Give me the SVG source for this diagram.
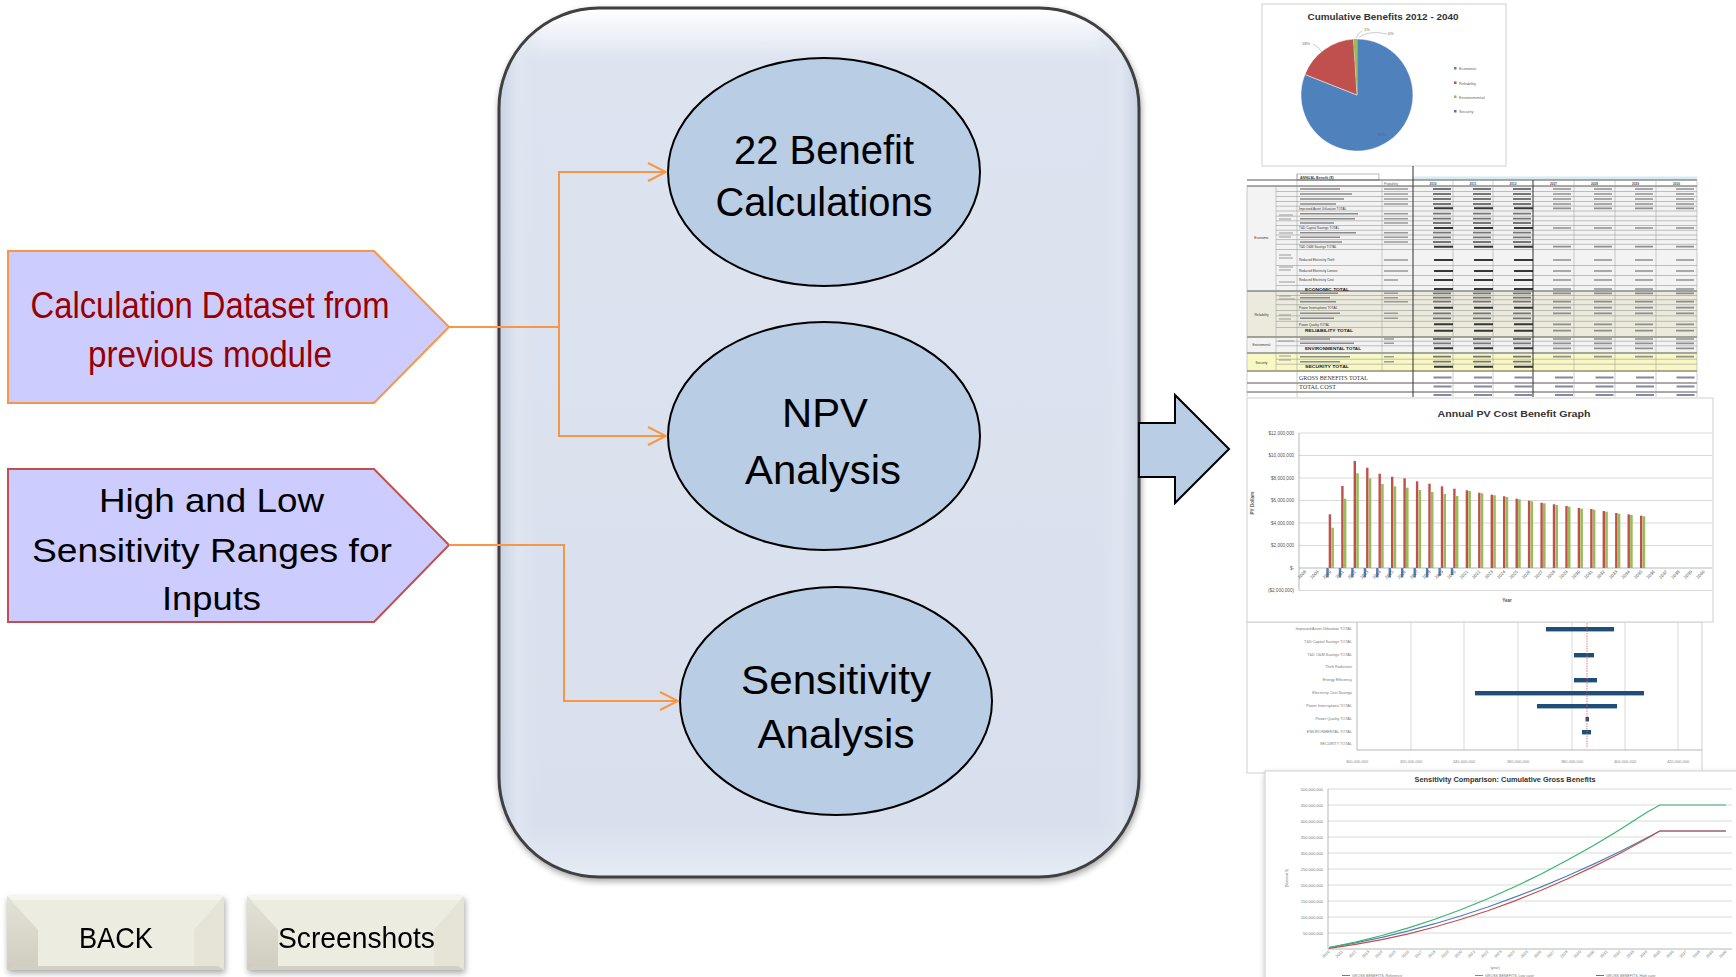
<svg xmlns="http://www.w3.org/2000/svg" width="1736" height="977" viewBox="0 0 1736 977">
<defs>
<style>
.t{font-family:"Liberation Sans",Arial,sans-serif}
.ser{font-family:"Liberation Serif","Times New Roman",serif}
.conn{fill:none;stroke:#f79646;stroke-width:2}
.ell{fill:#b9cde5;stroke:#000;stroke-width:2}
.big{font-size:41px;text-anchor:middle;fill:#000}
.tiny{font-size:4px;fill:#666}
.ax{font-size:4.6px;fill:#555}
.yr{font-size:4.4px;fill:#555;text-anchor:end}
.grid{stroke:#c8c8c8;stroke-width:0.7;fill:none}
.panel{fill:#fff;stroke:#cfcfcf;stroke-width:1}
.bR{fill:#c0504d}.bG{fill:#9bbb59}.bB{fill:#4f81bd}
.tb{fill:#1f4e79}
.bt{font-size:29px;text-anchor:middle;fill:#000}
</style>
<marker id="ah" markerUnits="userSpaceOnUse" viewBox="-20 -11 22 22" markerWidth="22" markerHeight="22" refX="0" refY="0" orient="auto">
<path d="M-18,-9 L0,0 L-18,9" fill="none" stroke="#f79646" stroke-width="2"/>
</marker>
<filter id="sh" x="-10%" y="-10%" width="130%" height="130%">
<feGaussianBlur in="SourceAlpha" stdDeviation="3"/>
<feOffset dx="1" dy="3"/>
<feComponentTransfer><feFuncA type="linear" slope="0.35"/></feComponentTransfer>
<feMerge><feMergeNode/><feMergeNode in="SourceGraphic"/></feMerge>
</filter>
<linearGradient id="gBoxV" x1="0" y1="0" x2="0" y2="1">
<stop offset="0" stop-color="#ffffff"/>
<stop offset="0.06" stop-color="#dde4f0"/>
<stop offset="0.94" stop-color="#d9e0ed"/>
<stop offset="1" stop-color="#e6ecf5"/>
</linearGradient>
<linearGradient id="gBoxH" x1="0" y1="0" x2="1" y2="0">
<stop offset="0" stop-color="#c4cfe0" stop-opacity="0.9"/>
<stop offset="0.03" stop-color="#e2e8f2" stop-opacity="0.7"/>
<stop offset="0.07" stop-color="#d9e0ed" stop-opacity="0"/>
<stop offset="0.93" stop-color="#d9e0ed" stop-opacity="0"/>
<stop offset="0.97" stop-color="#e2e8f2" stop-opacity="0.7"/>
<stop offset="1" stop-color="#c4cfe0" stop-opacity="0.9"/>
</linearGradient>
<linearGradient id="gBtnL" x1="0" y1="0" x2="0" y2="1">
<stop offset="0" stop-color="#e4e2d6"/><stop offset="1" stop-color="#cfcdbf"/>
</linearGradient>
</defs>
<rect width="1736" height="977" fill="#fff"/>

<!-- right-side screenshots -->
<g id="screens">
 <g id="pie">
  <rect x="1262" y="4" width="244" height="162" class="panel"/>
  <text class="t" x="1383" y="20" font-size="8.5" font-weight="bold" fill="#333" text-anchor="middle" textLength="151" lengthAdjust="spacingAndGlyphs">Cumulative Benefits 2012 - 2040</text>
  <path d="M1357,95 L1357,39 A56,56 0 1 1 1304.9,74.4 Z" fill="#4f81bd" stroke="#fff" stroke-width="0.5"/>
  <path d="M1357,95 L1304.9,74.4 A56,56 0 0 1 1353.5,39.1 Z" fill="#c0504d" stroke="#fff" stroke-width="0.5"/>
  <path d="M1357,95 L1353.5,39.1 A56,56 0 0 1 1357,39 Z" fill="#9bbb59"/>
  <path d="M1313,44 Q1318,46 1322,52 M1362,31 Q1358,33 1356,38 M1387,34 Q1370,30 1359,37" fill="none" stroke="#999" stroke-width="0.5"/>
  <text class="t tiny" x="1302" y="45">18%</text>
  <text class="t tiny" x="1364" y="31">1%</text>
  <text class="t tiny" x="1388" y="35">0%</text>
  <text class="t tiny" x="1378" y="136">81%</text>
  <rect x="1454" y="67" width="2.5" height="2.5" fill="#4f81bd"/>
  <rect x="1454" y="81.5" width="2.5" height="2.5" fill="#c0504d"/>
  <rect x="1454" y="95.5" width="2.5" height="2.5" fill="#9bbb59"/>
  <rect x="1454" y="110" width="2.5" height="2.5" fill="#8064a2"/>
  <text class="t tiny" x="1459" y="70">Economic</text>
  <text class="t tiny" x="1459" y="84.5">Reliability</text>
  <text class="t tiny" x="1459" y="98.5">Environmental</text>
  <text class="t tiny" x="1459" y="113">Security</text>
 </g>

 <g id="table">
  <rect x="1247" y="186" width="450" height="105" fill="#f3f3f3"/>
  <rect x="1247" y="291" width="450" height="46" fill="#ebeadd"/>
  <rect x="1247" y="337" width="450" height="16" fill="#f3f3f3"/>
  <rect x="1247" y="353" width="450" height="18" fill="#f8f8c4"/>
  <rect x="1413" y="176.5" width="284" height="3" fill="#d6ebf2"/>
  <rect x="1297" y="174" width="82" height="6" fill="none" stroke="#777" stroke-width="0.5"/>
  <text class="t" x="1300" y="178.6" font-size="3.6" font-weight="bold" fill="#444">ANNUAL Benefit ($)</text>
  <text class="t" x="1384" y="184.6" font-size="3" fill="#666">Probability</text>
  <g class="t" font-size="3.2" font-weight="bold" fill="#555" text-anchor="middle">
   <text x="1433" y="184.6">2010</text><text x="1473" y="184.6">2011</text><text x="1513" y="184.6">2012</text>
   <text x="1553.5" y="184.6">2027</text><text x="1594.5" y="184.6">2028</text><text x="1635.5" y="184.6">2029</text><text x="1676.5" y="184.6">2030</text>
  </g>
  <path d="M1276,191.5H1697M1276,196.5H1697M1276,201.5H1697M1276,206.2H1697M1276,211H1697M1276,216.2H1697M1276,220.8H1697M1276,225.5H1697M1276,230.3H1697M1276,235H1697M1276,239.6H1697M1276,244.3H1697M1276,249.5H1697M1276,265.5H1697M1276,275.5H1697M1276,285.5H1697M1276,295.5H1697M1276,299.7H1697M1276,304.7H1697M1276,310.5H1697M1276,315.8H1697M1276,321.3H1697M1276,327.5H1697M1276,341.2H1697M1276,345.8H1697M1276,359.2H1697M1276,364.2H1697" stroke="#999" stroke-width="0.6" fill="none"/>
  <path d="M1247,180H1697M1247,186H1697M1247,291H1697M1247,337H1697M1247,353H1697M1247,371H1697M1247,383H1697M1247,392H1697" stroke="#444" stroke-width="0.9" fill="none"/>
  <path d="M1247,186V397M1276,186V371M1297,174V397M1382,180V371M1453,180V397M1493,180V397M1574,180V397M1615,180V397M1656,180V397M1697,180V397" stroke="#999" stroke-width="0.5" fill="none"/>
  <path d="M1413,166V397M1533,180V397" stroke="#333" stroke-width="1" fill="none"/>
  <path d="M1413,189H1533M1413,194H1533M1413,199H1533M1413,204H1533M1413,213.7H1533M1413,218.7H1533M1413,223H1533M1413,232.7H1533M1413,237.3H1533M1413,242H1533M1413,293.3H1533M1413,297.7H1533M1413,301.7H1533M1413,313.3H1533M1413,318.3H1533M1413,339H1533M1413,343.3H1533M1413,356.7H1533M1413,361.7H1533" stroke="#555" stroke-width="1.8" stroke-dasharray="18 22" stroke-dashoffset="20" fill="none" opacity="0.8"/>
  <path d="M1413,208.3H1533M1413,228H1533M1413,246.7H1533M1413,260H1533M1413,271H1533M1413,280H1533M1413,289H1533M1413,307.7H1533M1413,324.3H1533M1413,330.7H1533M1413,348.3H1533M1413,366.7H1533" stroke="#222" stroke-width="2.1" stroke-dasharray="19 21" stroke-dashoffset="19" fill="none" opacity="0.9"/>
  <path d="M1533,189H1697M1533,194H1697M1533,199H1697M1533,204H1697M1533,208.3H1697M1533,228H1697M1533,246.7H1697M1533,260H1697M1533,271H1697M1533,280H1697M1533,289H1697M1533,293.3H1697M1533,301.7H1697M1533,307.7H1697M1533,313.3H1697M1533,324.3H1697M1533,330.7H1697M1533,339H1697M1533,343.3H1697M1533,348.3H1697M1533,356.7H1697" stroke="#777" stroke-width="1.7" stroke-dasharray="18 23" stroke-dashoffset="21" fill="none" opacity="0.8"/>
  <path d="M1413,377.5H1697M1413,386.5H1697M1413,395H1697" stroke="#6a6a8a" stroke-width="1.8" stroke-dasharray="18 22.5" stroke-dashoffset="20" fill="none" opacity="0.8"/>
  <path d="M1300,189h40M1300,194h52M1300,199h44M1300,204h36M1300,213.7h58M1300,218.7h55M1300,223h34M1300,232.7h56M1300,237.3h40M1300,242h42M1300,293.3h38M1300,297.7h30M1300,301.7h36M1300,313.3h40M1300,318.3h34M1300,339h30M1300,343.3h54M1300,356.7h50M1300,361.7h40" stroke="#8a8a8a" stroke-width="1.5" fill="none"/>
  <path d="M1384,189h24M1384,194h24M1384,199h24M1384,204h24M1384,213.7h24M1384,218.7h24M1384,223h24M1384,232.7h24M1384,237.3h24M1384,242h24M1384,260h24M1384,271h24M1384,280h14M1384,293.3h14M1384,297.7h14M1384,301.7h24M1384,313.3h14M1384,318.3h14M1384,339h10M1384,343.3h10M1384,356.7h10M1384,361.7h10" stroke="#999" stroke-width="1.4" fill="none"/>
  <path d="M1279,215h14M1279,219h12M1279,233h14M1279,237h12M1279,255h12M1279,258h14M1279,267h14M1279,270h12M1279,282h16M1279,296h12M1279,299h16M1279,315h12M1279,319h12M1278,341h16M1279,356h12M1279,360h12" stroke="#999" stroke-width="1.2" fill="none"/>
  <g class="t" font-size="3.2" fill="#333">
   <text x="1299" y="209.5">Improved Asset Utilization TOTAL</text>
   <text x="1299" y="229.2">T&amp;D Capital Savings TOTAL</text>
   <text x="1299" y="247.9">T&amp;D O&amp;M Savings TOTAL</text>
   <text x="1299" y="261.2">Reduced Electricity Theft</text>
   <text x="1299" y="272.2">Reduced Electricity Losses</text>
   <text x="1299" y="281.2">Reduced Electricity Cost</text>
   <text x="1299" y="308.9">Power Interruptions TOTAL</text>
   <text x="1299" y="325.5">Power Quality TOTAL</text>
  </g>
  <g class="t" font-size="3.8" font-weight="bold" fill="#222">
   <text x="1305" y="290.5" textLength="44" lengthAdjust="spacingAndGlyphs">ECONOMIC TOTAL</text>
   <text x="1305" y="332.2" textLength="48" lengthAdjust="spacingAndGlyphs">RELIABILITY TOTAL</text>
   <text x="1305" y="349.8" textLength="56" lengthAdjust="spacingAndGlyphs">ENVIRONMENTAL TOTAL</text>
   <text x="1305" y="368.2" textLength="44" lengthAdjust="spacingAndGlyphs">SECURITY TOTAL</text>
  </g>
  <g class="t" font-size="3.3" fill="#333" text-anchor="middle">
   <text x="1261.5" y="239">Economic</text>
   <text x="1261.5" y="315.5">Reliability</text>
   <text x="1261.5" y="346" font-size="2.8">Environmental</text>
   <text x="1261.5" y="363.5">Security</text>
  </g>
  <text class="ser" x="1299" y="380" font-size="5.4" fill="#333" textLength="69" lengthAdjust="spacingAndGlyphs">GROSS BENEFITS TOTAL</text>
  <text class="ser" x="1299" y="389" font-size="5.4" fill="#333" textLength="37" lengthAdjust="spacingAndGlyphs">TOTAL COST</text>
 </g>

 <g id="tornado">
  <rect x="1247" y="622" width="455" height="151" class="panel"/>
  <path d="M1411,622V750M1464,622V750M1518,622V750M1572,622V750M1625,622V750M1678,622V750" class="grid"/>
  <path d="M1357,622V750H1702" fill="none" stroke="#999" stroke-width="0.7"/>
  <rect x="1546" y="627" width="68" height="4.4" class="tb"/>
  <rect x="1574" y="653" width="20" height="4.4" class="tb"/>
  <rect x="1574" y="678" width="23" height="4.4" class="tb"/>
  <rect x="1475" y="691" width="169" height="4.4" class="tb"/>
  <rect x="1537" y="704" width="80" height="4.4" class="tb"/>
  <rect x="1585.5" y="717" width="3.5" height="4.4" class="tb"/>
  <rect x="1582" y="730" width="9" height="4.4" class="tb"/>
  <path d="M1587,623V748" stroke="#e05a5a" stroke-width="0.8" stroke-dasharray="1.5 1"/>
  <g class="t" font-size="3.8" fill="#777" text-anchor="end">
   <text x="1352" y="630.3">Improved Asset Utilization TOTAL</text>
   <text x="1352" y="643.3">T&amp;D Capital Savings TOTAL</text>
   <text x="1352" y="656.3">T&amp;D O&amp;M Savings TOTAL</text>
   <text x="1352" y="668.3">Theft Reduction</text>
   <text x="1352" y="681.3">Energy Efficiency</text>
   <text x="1352" y="694.3">Electricity Cost Savings</text>
   <text x="1352" y="707.3">Power Interruptions TOTAL</text>
   <text x="1352" y="720.3">Power Quality TOTAL</text>
   <text x="1352" y="733.3">ENVIRONMENTAL TOTAL</text>
   <text x="1352" y="745.3">SECURITY TOTAL</text>
  </g>
  <g class="t" font-size="4" fill="#888" text-anchor="middle">
   <text x="1357" y="763">300,000,000</text><text x="1411" y="763">320,000,000</text><text x="1464" y="763">340,000,000</text>
   <text x="1518" y="763">360,000,000</text><text x="1572" y="763">380,000,000</text><text x="1625" y="763">400,000,000</text><text x="1678" y="763">420,000,000</text>
  </g>
 </g>

 <g id="barchart">
  <rect x="1247" y="398" width="466" height="224" class="panel"/>
  <text class="t" x="1514" y="417" font-size="9" font-weight="bold" fill="#333" text-anchor="middle" textLength="153" lengthAdjust="spacingAndGlyphs">Annual PV Cost Benefit Graph</text>
  <path d="M1299,433H1712M1299,455.5H1712M1299,478H1712M1299,500.5H1712M1299,523H1712M1299,545.5H1712M1299,590.5H1712" class="grid"/>
  <path d="M1299,433V590.5M1299,568H1712" fill="none" stroke="#999" stroke-width="0.7"/>
  <g class="t ax" text-anchor="end">
   <text x="1294" y="434.5">$12,000,000</text><text x="1294" y="457">$10,000,000</text><text x="1294" y="479.5">$8,000,000</text>
   <text x="1294" y="502">$6,000,000</text><text x="1294" y="524.5">$4,000,000</text><text x="1294" y="547">$2,000,000</text>
   <text x="1294" y="569.5">$-</text><text x="1294" y="592">($2,000,000)</text>
  </g>
  <text class="t" font-size="4.6" font-weight="bold" fill="#555" text-anchor="middle" transform="translate(1254,503) rotate(-90)">PV Dollars</text>
  <text class="t" x="1507" y="602" font-size="4.6" font-weight="bold" fill="#555" text-anchor="middle">Year</text>
  <g>
   <rect class="bR" x="1328.7" y="514.3" width="2.4" height="53.7"/><rect class="bR" x="1341.2" y="486" width="2.4" height="82"/>
   <rect class="bR" x="1353.6" y="461" width="2.4" height="107"/><rect class="bR" x="1366.1" y="467.7" width="2.4" height="100.3"/>
   <rect class="bR" x="1378.5" y="473.7" width="2.4" height="94.3"/><rect class="bR" x="1391" y="476.7" width="2.4" height="91.3"/>
   <rect class="bR" x="1403.4" y="478.3" width="2.4" height="89.7"/><rect class="bR" x="1415.9" y="481.3" width="2.4" height="86.7"/>
   <rect class="bR" x="1428.3" y="483.7" width="2.4" height="84.3"/><rect class="bR" x="1440.8" y="486.3" width="2.4" height="81.7"/>
   <rect class="bR" x="1453.2" y="488.7" width="2.4" height="79.3"/><rect class="bR" x="1465.7" y="490.3" width="2.4" height="77.7"/>
   <rect class="bR" x="1478.1" y="492.7" width="2.4" height="75.3"/><rect class="bR" x="1490.6" y="494.7" width="2.4" height="73.3"/>
   <rect class="bR" x="1503" y="496.3" width="2.4" height="71.7"/><rect class="bR" x="1515.5" y="498.7" width="2.4" height="69.3"/>
   <rect class="bR" x="1527.9" y="500.7" width="2.4" height="67.3"/><rect class="bR" x="1540.4" y="502.7" width="2.4" height="65.3"/>
   <rect class="bR" x="1552.8" y="504.3" width="2.4" height="63.7"/><rect class="bR" x="1565.3" y="506" width="2.4" height="62"/>
   <rect class="bR" x="1577.7" y="508" width="2.4" height="60"/><rect class="bR" x="1590.2" y="509" width="2.4" height="59"/>
   <rect class="bR" x="1602.6" y="511" width="2.4" height="57"/><rect class="bR" x="1615.1" y="513" width="2.4" height="55"/>
   <rect class="bR" x="1627.5" y="514.3" width="2.4" height="53.7"/><rect class="bR" x="1640" y="515.7" width="2.4" height="52.3"/>
  </g>
  <g>
   <rect class="bG" x="1331.3" y="527.7" width="2.6" height="40.3"/><rect class="bG" x="1343.8" y="498.7" width="2.6" height="69.3"/>
   <rect class="bG" x="1356.2" y="473.3" width="2.6" height="94.7"/><rect class="bG" x="1368.7" y="478.3" width="2.6" height="89.7"/>
   <rect class="bG" x="1381.1" y="484" width="2.6" height="84"/><rect class="bG" x="1393.6" y="486.3" width="2.6" height="81.7"/>
   <rect class="bG" x="1406" y="487.7" width="2.6" height="80.3"/><rect class="bG" x="1418.5" y="490" width="2.6" height="78"/>
   <rect class="bG" x="1430.9" y="492" width="2.6" height="76"/><rect class="bG" x="1443.4" y="494" width="2.6" height="74"/>
   <rect class="bG" x="1455.8" y="496" width="2.6" height="72"/><rect class="bG" x="1468.3" y="491" width="2.6" height="77"/>
   <rect class="bG" x="1480.7" y="493.3" width="2.6" height="74.7"/><rect class="bG" x="1493.2" y="495.3" width="2.6" height="72.7"/>
   <rect class="bG" x="1505.6" y="497" width="2.6" height="71"/><rect class="bG" x="1518.1" y="499.3" width="2.6" height="68.7"/>
   <rect class="bG" x="1530.5" y="501.3" width="2.6" height="66.7"/><rect class="bG" x="1543" y="503.3" width="2.6" height="64.7"/>
   <rect class="bG" x="1555.4" y="505" width="2.6" height="63"/><rect class="bG" x="1567.9" y="506.7" width="2.6" height="61.3"/>
   <rect class="bG" x="1580.3" y="508.7" width="2.6" height="59.3"/><rect class="bG" x="1592.8" y="509.7" width="2.6" height="58.3"/>
   <rect class="bG" x="1605.2" y="511.7" width="2.6" height="56.3"/><rect class="bG" x="1617.7" y="513.7" width="2.6" height="54.3"/>
   <rect class="bG" x="1630.1" y="515" width="2.6" height="53"/><rect class="bG" x="1642.6" y="516.3" width="2.6" height="51.7"/>
  </g>
  <g>
   <rect class="bB" x="1326.3" y="568" width="2.4" height="9.5"/><rect class="bB" x="1338.8" y="568" width="2.4" height="9.5"/>
   <rect class="bB" x="1351.2" y="568" width="2.4" height="9.5"/><rect class="bB" x="1363.7" y="568" width="2.4" height="9.5"/>
   <rect class="bB" x="1376.1" y="568" width="2.4" height="9.5"/><rect class="bB" x="1388.6" y="568" width="2.4" height="9.5"/>
   <rect class="bB" x="1401" y="568" width="2.4" height="9.5"/><rect class="bB" x="1413.5" y="568" width="2.4" height="9.5"/>
   <rect class="bB" x="1425.9" y="568" width="2.4" height="9.5"/><rect class="bB" x="1438.4" y="568" width="2.4" height="8"/>
   <rect class="bB" x="1450.8" y="568" width="2.4" height="7"/>
  </g>
  <g class="t yr">
   <text transform="translate(1306.5,572) rotate(-45)">2008</text><text transform="translate(1319,572) rotate(-45)">2009</text>
   <text transform="translate(1331.4,572) rotate(-45)">2010</text><text transform="translate(1343.9,572) rotate(-45)">2011</text>
   <text transform="translate(1356.3,572) rotate(-45)">2012</text><text transform="translate(1368.8,572) rotate(-45)">2013</text>
   <text transform="translate(1381.2,572) rotate(-45)">2014</text><text transform="translate(1393.7,572) rotate(-45)">2015</text>
   <text transform="translate(1406.1,572) rotate(-45)">2016</text><text transform="translate(1418.6,572) rotate(-45)">2017</text>
   <text transform="translate(1431,572) rotate(-45)">2018</text><text transform="translate(1443.5,572) rotate(-45)">2019</text>
   <text transform="translate(1455.9,572) rotate(-45)">2020</text><text transform="translate(1468.4,572) rotate(-45)">2021</text>
   <text transform="translate(1480.8,572) rotate(-45)">2022</text><text transform="translate(1493.3,572) rotate(-45)">2023</text>
   <text transform="translate(1505.7,572) rotate(-45)">2024</text><text transform="translate(1518.2,572) rotate(-45)">2025</text>
   <text transform="translate(1530.6,572) rotate(-45)">2026</text><text transform="translate(1543.1,572) rotate(-45)">2027</text>
   <text transform="translate(1555.5,572) rotate(-45)">2028</text><text transform="translate(1568,572) rotate(-45)">2029</text>
   <text transform="translate(1580.4,572) rotate(-45)">2030</text><text transform="translate(1592.9,572) rotate(-45)">2031</text>
   <text transform="translate(1605.3,572) rotate(-45)">2032</text><text transform="translate(1617.8,572) rotate(-45)">2033</text>
   <text transform="translate(1630.2,572) rotate(-45)">2034</text><text transform="translate(1642.7,572) rotate(-45)">2035</text>
   <text transform="translate(1655.1,572) rotate(-45)">2036</text><text transform="translate(1667.6,572) rotate(-45)">2037</text>
   <text transform="translate(1680,572) rotate(-45)">2038</text><text transform="translate(1692.5,572) rotate(-45)">2039</text>
   <text transform="translate(1704.9,572) rotate(-45)">2040</text>
  </g>
 </g>

 <g id="linechart">
  <rect x="1265" y="771" width="480" height="220" class="panel" filter="url(#sh)"/>
  <text class="t" x="1505" y="782" font-size="7" font-weight="bold" fill="#333" text-anchor="middle" textLength="181" lengthAdjust="spacingAndGlyphs">Sensitivity Comparison: Cumulative Gross Benefits</text>
  <path d="M1328,789H1732M1328,805H1732M1328,821H1732M1328,837H1732M1328,853H1732M1328,869H1732M1328,885H1732M1328,901H1732M1328,917H1732M1328,933H1732" class="grid"/>
  <path d="M1328,789V949H1732" fill="none" stroke="#999" stroke-width="0.7"/>
  <g class="t" font-size="4" fill="#777" text-anchor="end">
   <text x="1323" y="790.5">500,000,000</text><text x="1323" y="806.5">450,000,000</text><text x="1323" y="822.5">400,000,000</text>
   <text x="1323" y="838.5">350,000,000</text><text x="1323" y="854.5">300,000,000</text><text x="1323" y="870.5">250,000,000</text>
   <text x="1323" y="886.5">200,000,000</text><text x="1323" y="902.5">150,000,000</text><text x="1323" y="918.5">100,000,000</text>
   <text x="1323" y="934.5">50,000,000</text><text x="1323" y="950.5">-</text>
  </g>
  <text class="t" font-size="3.5" fill="#777" text-anchor="middle" transform="translate(1288,878) rotate(-90)">(Nominal $)</text>
  <text class="t" x="1495" y="969" font-size="3.5" fill="#777" text-anchor="middle">(year)</text>
  <polyline fill="none" stroke="#4f81bd" stroke-width="1.2" points="1329,947.7 1355.5,942.9 1381.9,937.3 1408.4,930.9 1434.8,923.7 1461.3,915.7 1487.8,907 1514.2,897.4 1540.7,887.1 1567.1,876 1593.6,864.1 1620.1,851.5 1646.5,838 1659.8,831 1725.9,831"/>
  <polyline fill="none" stroke="#c0504d" stroke-width="1.2" points="1329,948.3 1355.5,944.4 1381.9,939.6 1408.4,933.8 1434.8,927 1461.3,919.3 1487.8,910.7 1514.2,901.1 1540.7,890.5 1567.1,879 1593.6,866.6 1620.1,853.2 1646.5,838.8 1659.8,831 1725.9,831"/>
  <polyline fill="none" stroke="#3cb371" stroke-width="1.2" points="1329,947.7 1355.5,942.1 1381.9,935.5 1408.4,927.9 1434.8,919.2 1461.3,909.5 1487.8,898.8 1514.2,887 1540.7,874.2 1567.1,860.3 1593.6,845.4 1620.1,829.5 1646.5,812.6 1659.8,805 1725.9,805"/>
  <g class="t" font-size="4" fill="#777" text-anchor="end">
   <text transform="translate(1330,952) rotate(-45)">2010</text><text transform="translate(1343.2,952) rotate(-45)">2011</text>
   <text transform="translate(1356.5,952) rotate(-45)">2012</text><text transform="translate(1369.7,952) rotate(-45)">2013</text>
   <text transform="translate(1382.9,952) rotate(-45)">2014</text><text transform="translate(1396.2,952) rotate(-45)">2015</text>
   <text transform="translate(1409.4,952) rotate(-45)">2016</text><text transform="translate(1422.6,952) rotate(-45)">2017</text>
   <text transform="translate(1435.8,952) rotate(-45)">2018</text><text transform="translate(1449.1,952) rotate(-45)">2019</text>
   <text transform="translate(1462.3,952) rotate(-45)">2020</text><text transform="translate(1475.5,952) rotate(-45)">2021</text>
   <text transform="translate(1488.8,952) rotate(-45)">2022</text><text transform="translate(1502,952) rotate(-45)">2023</text>
   <text transform="translate(1515.2,952) rotate(-45)">2024</text><text transform="translate(1528.5,952) rotate(-45)">2025</text>
   <text transform="translate(1541.7,952) rotate(-45)">2026</text><text transform="translate(1554.9,952) rotate(-45)">2027</text>
   <text transform="translate(1568.1,952) rotate(-45)">2028</text><text transform="translate(1581.4,952) rotate(-45)">2029</text>
   <text transform="translate(1594.6,952) rotate(-45)">2030</text><text transform="translate(1607.8,952) rotate(-45)">2031</text>
   <text transform="translate(1621.1,952) rotate(-45)">2032</text><text transform="translate(1634.3,952) rotate(-45)">2033</text>
   <text transform="translate(1647.5,952) rotate(-45)">2034</text><text transform="translate(1660.8,952) rotate(-45)">2035</text>
   <text transform="translate(1674,952) rotate(-45)">2036</text><text transform="translate(1687.2,952) rotate(-45)">2037</text>
   <text transform="translate(1700.4,952) rotate(-45)">2038</text><text transform="translate(1713.7,952) rotate(-45)">2039</text>
   <text transform="translate(1726.9,952) rotate(-45)">2040</text>
  </g>
  <path d="M1342,975.5h8" stroke="#4f81bd" stroke-width="1"/>
  <path d="M1475,975.5h8" stroke="#3cb371" stroke-width="1"/>
  <path d="M1596,975.5h8" stroke="#c0504d" stroke-width="1"/>
  <g class="t" font-size="3.6" fill="#777">
   <text x="1352" y="977">GROSS BENEFITS, Reference</text>
   <text x="1485" y="977">GROSS BENEFITS, Low case</text>
   <text x="1606" y="977">GROSS BENEFITS, High case</text>
  </g>
 </g>
</g>

<g id="container" filter="url(#sh)">
 <rect x="499" y="8" width="640" height="869" rx="100" ry="100" fill="url(#gBoxV)"/>
 <rect x="499" y="8" width="640" height="869" rx="100" ry="100" fill="url(#gBoxH)" stroke="#3f3f3f" stroke-width="3"/>
</g>

<g id="node-dataset">
 <polygon points="8,251 374,251 449,327 374,403 8,403" fill="#ccccff" stroke="#f79646" stroke-width="2"/>
 <text class="t" x="210" y="318" font-size="37" fill="#990000" text-anchor="middle" textLength="359" lengthAdjust="spacingAndGlyphs">Calculation Dataset from</text>
 <text class="t" x="210" y="367" font-size="37" fill="#990000" text-anchor="middle" textLength="244" lengthAdjust="spacingAndGlyphs">previous module</text>
</g>
<g id="node-ranges">
 <polygon points="8,469 374,469 449,545 374,622 8,622" fill="#ccccff" stroke="#c0504d" stroke-width="2"/>
 <text class="t" x="211.5" y="512" font-size="34" fill="#000" text-anchor="middle" textLength="225" lengthAdjust="spacingAndGlyphs">High and Low</text>
 <text class="t" x="212" y="562" font-size="34" fill="#000" text-anchor="middle" textLength="360" lengthAdjust="spacingAndGlyphs">Sensitivity Ranges for</text>
 <text class="t" x="211.5" y="610" font-size="34" fill="#000" text-anchor="middle" textLength="99" lengthAdjust="spacingAndGlyphs">Inputs</text>
</g>

<g id="node-benefit">
 <ellipse cx="824" cy="172" rx="156" ry="114" class="ell"/>
 <text class="t big" x="824" y="164" textLength="180" lengthAdjust="spacingAndGlyphs">22 Benefit</text>
 <text class="t big" x="824" y="216" textLength="217" lengthAdjust="spacingAndGlyphs">Calculations</text>
</g>
<g id="node-npv">
 <ellipse cx="824" cy="436" rx="156" ry="114" class="ell"/>
 <text class="t big" x="825" y="427" textLength="86" lengthAdjust="spacingAndGlyphs">NPV</text>
 <text class="t big" x="823" y="484" textLength="156" lengthAdjust="spacingAndGlyphs">Analysis</text>
</g>
<g id="node-sensitivity">
 <ellipse cx="836" cy="701" rx="156" ry="114" class="ell"/>
 <text class="t big" x="836" y="694" textLength="190" lengthAdjust="spacingAndGlyphs">Sensitivity</text>
 <text class="t big" x="836" y="748" textLength="157" lengthAdjust="spacingAndGlyphs">Analysis</text>
</g>

<g id="node-output-arrow">
 <polygon points="1139,423 1175,423 1175,395 1229,449 1175,503 1175,477 1139,477" fill="#b9cde5" stroke="#000" stroke-width="2"/>
</g>

<g id="connectors">
 <path class="conn" d="M449,327 H559"/>
 <path class="conn" d="M559,327 V172 H666" marker-end="url(#ah)"/>
 <path class="conn" d="M559,327 V436 H666" marker-end="url(#ah)"/>
 <path class="conn" d="M449,545 H564 V701 H678" marker-end="url(#ah)"/>
</g>

<g id="btn-back" filter="url(#sh)">
 <rect x="7" y="896" width="217" height="74" fill="#edece1"/>
 <polygon points="7,896 38,930 38,966 7,970" fill="url(#gBtnL)"/>
 <polygon points="224,896 194,930 194,966 224,970" fill="#e6e4d7"/>
 <polygon points="7,896 224,896 219,900 12,900" fill="#f6f5ee"/>
 <polygon points="7,970 224,970 218,966 13,966" fill="#d2d0c2"/>
 <text class="t bt" x="116" y="948" textLength="74" lengthAdjust="spacingAndGlyphs">BACK</text>
</g>
<g id="btn-screenshots" filter="url(#sh)">
 <rect x="247" y="896" width="217" height="74" fill="#edece1"/>
 <polygon points="247,896 278,930 278,966 247,970" fill="url(#gBtnL)"/>
 <polygon points="464,896 434,930 434,966 464,970" fill="#e6e4d7"/>
 <polygon points="247,896 464,896 459,900 252,900" fill="#f6f5ee"/>
 <polygon points="247,970 464,970 458,966 253,966" fill="#d2d0c2"/>
 <text class="t bt" x="356.5" y="948" textLength="157" lengthAdjust="spacingAndGlyphs">Screenshots</text>
</g>
</svg>
